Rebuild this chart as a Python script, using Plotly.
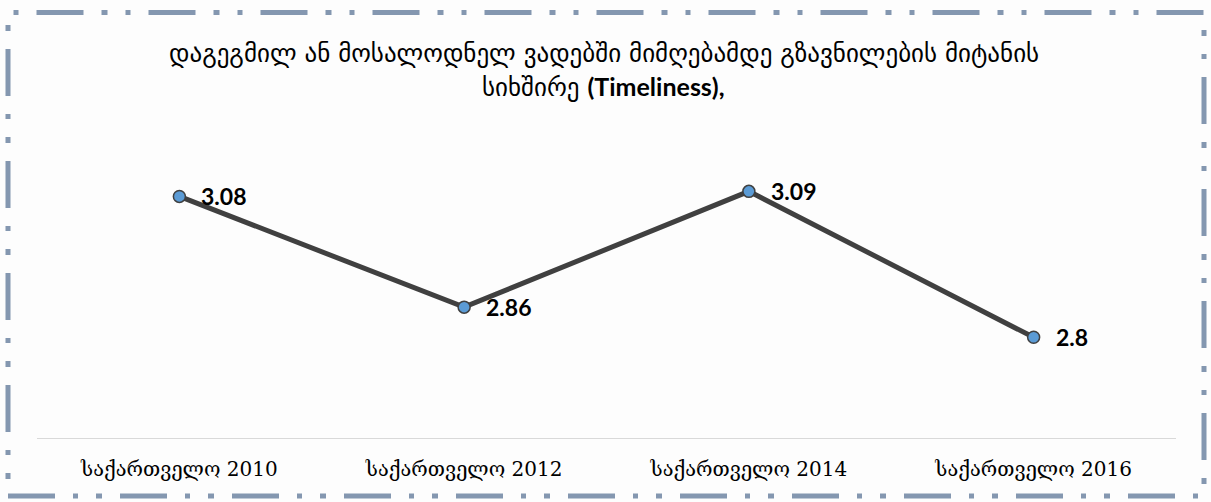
import plotly.graph_objects as go

categories = ["საქართველო 2010", "საქართველო 2012", "საქართველო 2014", "საქართველო 2016"]
values = [3.08, 2.86, 3.09, 2.8]
value_labels = ["3.08", "2.86", "3.09", "2.8"]
title_line1 = "დაგეგმილ ან მოსალოდნელ ვადებში მიმღებამდე გზავნილების მიტანის"
title_line2_geo = "სიხშირე"
title_line2_lat = "(Timeliness),"

fig = go.Figure()
fig.add_trace(go.Scatter(
    x=categories, y=values, mode="lines+markers",
    line=dict(color="#404040", width=5),
    marker=dict(size=12, color="#5B9BD5", line=dict(color="#404040", width=1.5)),
    cliponaxis=False, hoverinfo="skip",
))

annotations = []
for c, v, lab in zip(categories, values, value_labels):
    annotations.append(dict(
        x=c, y=v, xref="x", yref="y", text=lab, showarrow=False,
        xanchor="left", yanchor="middle", xshift=20, yshift=0,
        font=dict(family="Lato, Carlito, sans-serif", size=23, color="#000000", weight="bold")))

annotations.append(dict(text=title_line1, x=0.4978, y=(438 - 53) / 302, xref="paper", yref="paper",
                        showarrow=False, xanchor="center", yanchor="middle",
                        font=dict(family="DejaVu Sans, sans-serif", size=25, color="#000000")))
annotations.append(dict(text=title_line2_geo + " <span style='font-family:Lato;font-weight:bold'>"
                        + title_line2_lat + "</span>",
                        x=0.4978, y=(438 - 86) / 302, xref="paper", yref="paper",
                        showarrow=False, xanchor="center", yanchor="middle",
                        font=dict(family="DejaVu Sans, sans-serif", size=25, color="#000000")))

fig.update_layout(
    width=1211, height=502,
    margin=dict(l=37, r=35, t=136, b=64),
    paper_bgcolor="#FDFDFD", plot_bgcolor="#FDFDFD",
    showlegend=False,
    xaxis=dict(showgrid=False, zeroline=False, showline=True, linecolor="#D9D9D9", linewidth=1,
               ticks="", ticklabelstandoff=13,
               tickfont=dict(family="DejaVu Serif, serif", size=20, color="#000000"),
               range=[-0.5, 3.5], fixedrange=True),
    yaxis=dict(range=[2.6, 3.2], showgrid=False, zeroline=False, showline=False,
               showticklabels=False, ticks="", fixedrange=True),
    annotations=annotations,
    shapes=[dict(type="rect", xref="paper", yref="paper",
                 x0=(8 - 37) / 1139, x1=(1204 - 37) / 1139,
                 y0=(438 - 496) / 302, y1=(438 - 12.5) / 302,
                 line=dict(color="#8497B0", width=5, dash="47px,18px,5px,18px,6px,18px"),
                 fillcolor="rgba(0,0,0,0)", layer="below")],
)

fig.write_html("out.html", config={"displayModeBar": False})
with open("out.html", "r", encoding="utf-8") as f:
    html = f.read()
html = html.replace("<head>", "<head><style>html,body{margin:0;padding:0;overflow:hidden;}</style>", 1)
with open("out.html", "w", encoding="utf-8") as f:
    f.write(html)
